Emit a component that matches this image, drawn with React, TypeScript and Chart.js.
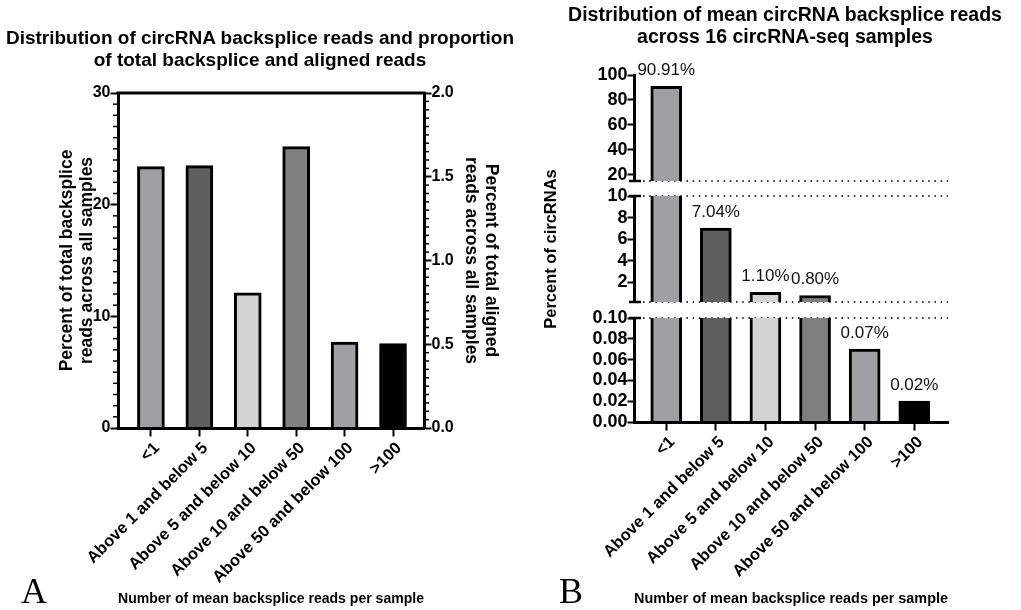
import React, { useEffect, useRef } from 'react';
import { Chart, registerables } from 'chart.js';

Chart.register(...registerables);

const SANS = '"Liberation Sans", Arial, Helvetica, sans-serif';
const SERIF = '"Liberation Serif", "Times New Roman", serif';

// Read-count bins shared by both panels
const categories = [
  '<1',
  'Above 1 and below 5',
  'Above 5 and below 10',
  'Above 10 and below 50',
  'Above 50 and below 100',
  '>100',
];
const barColors = ['#a0a0a4', '#5f5f5f', '#d3d3d3', '#7f7f7f', '#a0a0a4', '#000000'];

// Panel A: percent of total backsplice reads in each bin
const backsplicePercent = [23.4, 23.5, 12.1, 25.2, 7.7, 7.55];
const leftTicksA = [0, 10, 20, 30];
const rightTicksA = [0, 0.5, 1.0, 1.5, 2.0];

// Panel B: percent of circRNAs in each bin, on a three-part broken axis
const circRNAPercent = [90.91, 7.04, 1.1, 0.8, 0.07, 0.02];
const upperTicksB = [20, 40, 60, 80, 100];
const middleTicksB = [2, 4, 6, 8, 10];
const lowerTicksB = [0, 0.02, 0.04, 0.06, 0.08, 0.1];

const xTitle = 'Number of mean backsplice reads per sample';

const boldFont = (size: number, lineHeight = 1.2) => ({
  family: SANS,
  size,
  weight: 'bold' as const,
  lineHeight,
});
const tickGrid = { drawOnChartArea: false, offset: false, tickLength: 7.5, tickWidth: 2, tickColor: '#000' };
const axisBorder = { color: '#000', width: 3, z: 1 };

const setTicks = (values: number[]) => (scale: any) => {
  scale.ticks = values.map((value) => ({ value }));
};

const categoryAxis = (min: number, max: number, height: number) => ({
  type: 'linear' as const,
  min,
  max,
  offset: false,
  afterBuildTicks: setTicks(categories.map((_, i) => i)),
  afterFit: (s: any) => {
    s.height = height;
  },
  grid: { ...tickGrid, tickLength: 8.5 },
  border: axisBorder,
  ticks: {
    autoSkip: false,
    minRotation: 45,
    maxRotation: 45,
    padding: 2,
    labelOffset: 6,
    color: '#000',
    font: boldFont(16.5),
    callback: (_v: any, i: number) => categories[i],
  },
  title: {
    display: true,
    text: xTitle,
    color: '#000',
    font: boldFont(15),
    padding: { top: 0, bottom: 2 },
  },
});

// Frame line on top plus minor ticks on both value axes of panel A
const axisDecorA = {
  id: 'axisDecorA',
  afterDraw(chart: any) {
    const { ctx, chartArea } = chart;
    const y = chart.scales.y;
    const y2 = chart.scales.y2;
    const seg = (x1: number, y1: number, x2: number, y2p: number) => {
      ctx.beginPath();
      ctx.moveTo(x1, y1);
      ctx.lineTo(x2, y2p);
      ctx.stroke();
    };
    ctx.save();
    ctx.strokeStyle = '#000';
    ctx.lineWidth = 3;
    seg(chartArea.left - 1.5, chartArea.top, chartArea.right + 1.5, chartArea.top);
    ctx.lineWidth = 1.5;
    for (let k = 1; k < 30; k++) {
      if (k % 10 === 0) continue;
      const p = y.getPixelForValue(k);
      seg(chartArea.left - 5, p, chartArea.left, p);
    }
    for (let k = 1; k < 40; k++) {
      if (k % 10 === 0) continue;
      const p = y2.getPixelForValue(k * 0.05);
      seg(chartArea.right, p, chartArea.right + 5, p);
    }
    ctx.restore();
  },
};

// Dotted break lines, axis end caps and value labels of panel B
const brokenAxisB = {
  id: 'brokenAxisB',
  beforeDatasetsDraw(chart: any) {
    const { ctx, chartArea, scales } = chart;
    const edges = [scales.yTop.bottom, scales.yMid.top, scales.yMid.bottom, scales.yBot.top];
    ctx.save();
    ctx.strokeStyle = '#000';
    ctx.lineWidth = 1.6;
    ctx.setLineDash([1.6, 4.6]);
    edges.forEach((e: number) => {
      ctx.beginPath();
      ctx.moveTo(chartArea.left + 9, e);
      ctx.lineTo(chartArea.right, e);
      ctx.stroke();
    });
    ctx.restore();
  },
  afterDatasetsDraw(chart: any) {
    const { ctx } = chart;
    ctx.save();
    ctx.font = `17px ${SANS}`;
    ctx.fillStyle = '#111';
    ctx.textAlign = 'center';
    ctx.textBaseline = 'middle';
    circRNAPercent.forEach((v, i) => {
      for (let d = 0; d < chart.data.datasets.length; d++) {
        const meta = chart.getDatasetMeta(d);
        const ys = meta.yScale;
        if (v >= ys.min && v <= ys.max) {
          const el = meta.data[i];
          ctx.fillText(v.toFixed(2) + '%', el.x, el.y - 16);
          break;
        }
      }
    });
    ctx.restore();
  },
  afterDraw(chart: any) {
    const { ctx, chartArea, scales } = chart;
    const edges = [scales.yTop.bottom, scales.yMid.top, scales.yMid.bottom, scales.yBot.top];
    ctx.save();
    ctx.strokeStyle = '#000';
    ctx.lineWidth = 2.5;
    edges.forEach((e: number) => {
      ctx.beginPath();
      ctx.moveTo(chartArea.left - 5, e);
      ctx.lineTo(chartArea.left + 7, e);
      ctx.stroke();
    });
    ctx.restore();
  },
};

const segmentAxis = (
  values: number[],
  min: number,
  max: number,
  weight: number,
  stackWeight: number,
  digits: number,
  withTitle: boolean
) => ({
  type: 'linear' as const,
  position: 'left' as const,
  stack: 'broken',
  stackWeight,
  weight,
  min,
  max,
  afterBuildTicks: setTicks(values),
  afterFit: (s: any) => {
    s.width = 114;
  },
  grid: { ...tickGrid, tickLength: 6.5 },
  border: axisBorder,
  ticks: {
    autoSkip: false,
    padding: 0,
    color: '#000',
    font: boldFont(18),
    callback: (v: any) => Number(v).toFixed(digits),
  },
  title: withTitle
    ? {
        display: true,
        text: 'Percent of circRNAs',
        color: '#000',
        font: boldFont(16.5),
        padding: { top: 22, bottom: 0 },
      }
    : { display: false },
});

const gapAxis = (weight: number, stackWeight: number) => ({
  type: 'linear' as const,
  position: 'left' as const,
  stack: 'broken',
  stackWeight,
  weight,
  afterFit: (s: any) => {
    s.width = 114;
  },
  grid: { display: false },
  border: { display: false },
  ticks: { display: false },
});

function makeChartA(canvas: HTMLCanvasElement) {
  return new Chart(canvas, {
    type: 'bar',
    data: {
      datasets: [
        {
          data: backsplicePercent.map((y, x) => ({ x, y })),
          backgroundColor: barColors,
          borderColor: '#000',
          borderWidth: 3,
          borderSkipped: 'start',
          barThickness: 27,
          grouped: false,
          yAxisID: 'y',
        } as any,
      ],
    },
    options: {
      responsive: false,
      animation: false,
      events: [],
      layout: { padding: { top: 93, right: 0, bottom: 0, left: 0 } },
      plugins: { legend: { display: false }, tooltip: { enabled: false } },
      scales: {
        x: categoryAxis(-0.68, 5.64, 182),
        y: {
          type: 'linear',
          position: 'left',
          min: 0,
          max: 30,
          afterBuildTicks: setTicks(leftTicksA),
          afterFit: (s: any) => {
            s.width = 118;
          },
          grid: tickGrid,
          border: axisBorder,
          ticks: { autoSkip: false, padding: 0, color: '#000', font: boldFont(16), callback: (v: any) => String(v) },
          title: {
            display: true,
            text: ['Percent of total backsplice', 'reads across all samples'],
            color: '#000',
            font: boldFont(17.5, 1.1),
            padding: { top: 58, bottom: 0 },
          },
        },
        y2: {
          type: 'linear',
          position: 'right',
          min: 0,
          max: 2,
          afterBuildTicks: setTicks(rightTicksA),
          afterFit: (s: any) => {
            s.width = 96;
          },
          grid: tickGrid,
          border: axisBorder,
          ticks: {
            autoSkip: false,
            padding: 0,
            color: '#000',
            font: boldFont(16),
            callback: (v: any) => Number(v).toFixed(1),
          },
          title: {
            display: true,
            text: ['Percent of total aligned', 'reads across all samples'],
            color: '#000',
            font: boldFont(17.5, 1.1),
            padding: { top: 20, bottom: 0 },
          },
        },
      } as any,
    },
    plugins: [axisDecorA],
  });
}

function makeChartB(canvas: HTMLCanvasElement) {
  const segmentIds = ['yTop', 'yMid', 'yBot'];
  return new Chart(canvas, {
    type: 'bar',
    data: {
      datasets: segmentIds.map(
        (id) =>
          ({
            data: circRNAPercent.map((y, x) => ({ x, y })),
            yAxisID: id,
            clip: 0,
            grouped: false,
            barThickness: 31,
            backgroundColor: barColors,
            borderColor: '#000',
            borderWidth: 3,
            borderSkipped: 'start',
          } as any)
      ),
    },
    options: {
      responsive: false,
      animation: false,
      events: [],
      layout: { padding: { top: 75, right: 73, bottom: 0, left: 0 } },
      plugins: { legend: { display: false }, tooltip: { enabled: false } },
      scales: {
        x: categoryAxis(-0.65, 5.68, 188),
        yTop: segmentAxis(upperTicksB, 15, 100, 5, 106, 0, false),
        yGap1: gapAxis(4, 15),
        yMid: segmentAxis(middleTicksB, 0.2, 10, 3, 106, 0, true),
        yGap2: gapAxis(2, 16),
        yBot: segmentAxis(lowerTicksB, 0, 0.1, 1, 104, 2, false),
      } as any,
    },
    plugins: [brokenAxisB],
  });
}

const titleStyle: React.CSSProperties = {
  position: 'absolute',
  fontFamily: SANS,
  fontWeight: 'bold',
  textAlign: 'center',
  whiteSpace: 'nowrap',
  color: '#000',
};

const letterStyle: React.CSSProperties = {
  position: 'absolute',
  fontFamily: SERIF,
  fontSize: 36,
  lineHeight: '36px',
  color: '#000',
};

export default function App() {
  const refA = useRef<HTMLCanvasElement>(null);
  const refB = useRef<HTMLCanvasElement>(null);

  useEffect(() => {
    const a = makeChartA(refA.current as HTMLCanvasElement);
    const b = makeChartB(refB.current as HTMLCanvasElement);
    return () => {
      a.destroy();
      b.destroy();
    };
  }, []);

  return (
    <div
      style={{
        position: 'absolute',
        left: 0,
        top: 0,
        width: 1021,
        height: 610,
        overflow: 'hidden',
        background: '#fff',
      }}
    >
      <canvas ref={refA} width={520} height={610} style={{ position: 'absolute', left: 0, top: 0 }} />
      <canvas ref={refB} width={501} height={610} style={{ position: 'absolute', left: 520, top: 0 }} />
      <div style={{ ...titleStyle, left: 0, top: 27, width: 520, fontSize: 19, lineHeight: '22px' }}>
        Distribution of circRNA backsplice reads and proportion
        <br />
        of total backsplice and aligned reads
      </div>
      <div style={{ ...titleStyle, left: 549, top: 3, width: 472, fontSize: 19.5, lineHeight: '22px' }}>
        Distribution of mean circRNA backsplice reads
        <br />
        across 16 circRNA-seq samples
      </div>
      <div style={{ ...letterStyle, left: 21, top: 573 }}>A</div>
      <div style={{ ...letterStyle, left: 559, top: 573 }}>B</div>
    </div>
  );
}
